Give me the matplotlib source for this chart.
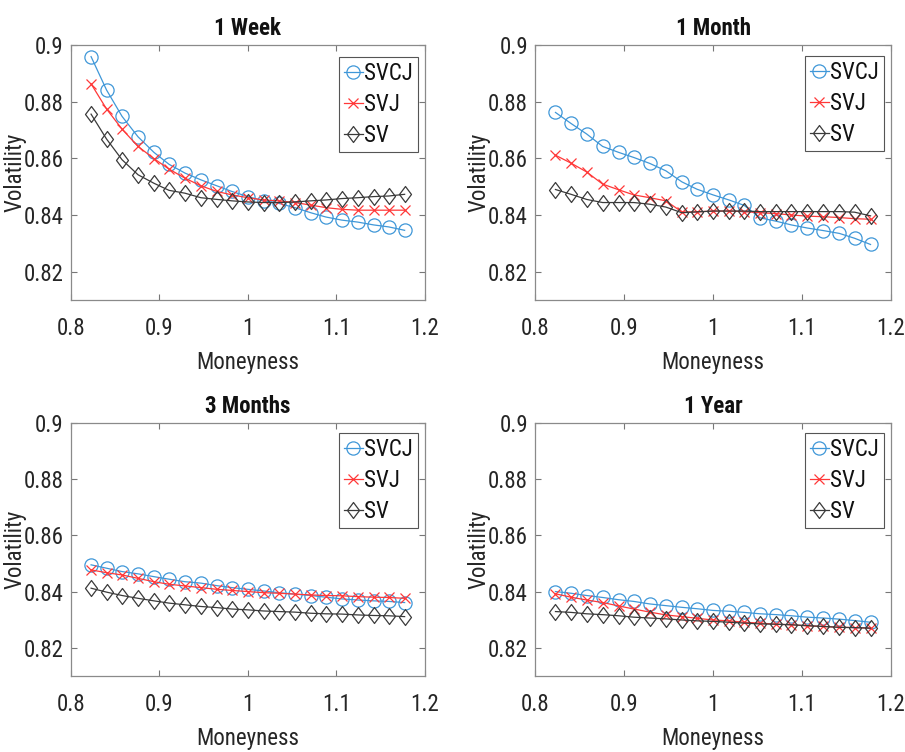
import matplotlib
matplotlib.use('Agg')
import matplotlib.pyplot as plt
from matplotlib.path import Path

plt.rcParams['font.family'] = ['Roboto Condensed', 'Liberation Sans Narrow', 'DejaVu Sans']

# datos
moneyness = [0.823, 0.8405, 0.858, 0.876, 0.894, 0.911, 0.929, 0.947, 0.965, 0.982, 1.000,
             1.018, 1.035, 1.053, 1.071, 1.088, 1.106, 1.124, 1.142, 1.159, 1.177]

titulos = ['1 Week', '1 Month', '3 Months', '1 Year']
modelos = ['SVCJ', 'SVJ', 'SV']

svcj_1w = [0.8959, 0.8841, 0.8748, 0.8676, 0.8621, 0.8579, 0.8548, 0.8524, 0.8503, 0.8483, 0.8465,
           0.8450, 0.8441, 0.8426, 0.8408, 0.8393, 0.8382, 0.8375, 0.8365, 0.8358, 0.8346]
svj_1w = [0.8863, 0.8774, 0.8703, 0.8642, 0.8599, 0.8562, 0.8530, 0.8503, 0.8483, 0.8471, 0.8461,
          0.8453, 0.8450, 0.8444, 0.8435, 0.8426, 0.8420, 0.8417, 0.8417, 0.8417, 0.8417]
sv_1w = [0.8756, 0.8668, 0.8595, 0.8542, 0.8512, 0.8487, 0.8477, 0.8461, 0.8455, 0.8450, 0.8446,
         0.8444, 0.8444, 0.8446, 0.8450, 0.8453, 0.8458, 0.8461, 0.8465, 0.8467, 0.8473]

svcj_1m = [0.8762, 0.8723, 0.8686, 0.8642, 0.8621, 0.8603, 0.8582, 0.8556, 0.8517, 0.8491, 0.8471,
           0.8453, 0.8434, 0.8390, 0.8378, 0.8365, 0.8354, 0.8345, 0.8335, 0.8318, 0.8296]
svj_1m = [0.8611, 0.8583, 0.8552, 0.8509, 0.8489, 0.8471, 0.8461, 0.8450, 0.8411, 0.8411, 0.8414,
          0.8414, 0.8412, 0.8408, 0.8405, 0.8400, 0.8396, 0.8394, 0.8391, 0.8387, 0.8385]
sv_1m = [0.8490, 0.8473, 0.8455, 0.8444, 0.8444, 0.8444, 0.8438, 0.8428, 0.8408, 0.8411, 0.8414,
         0.8414, 0.8414, 0.8412, 0.8412, 0.8412, 0.8412, 0.8412, 0.8412, 0.8410, 0.8397]

svcj_3m = [0.8495, 0.8483, 0.8471, 0.8463, 0.8453, 0.8444, 0.8435, 0.8430, 0.8421, 0.8414, 0.8408,
           0.8402, 0.8396, 0.8391, 0.8386, 0.8380, 0.8374, 0.8370, 0.8367, 0.8365, 0.8361]
svj_3m = [0.8477, 0.8467, 0.8459, 0.8447, 0.8435, 0.8426, 0.8420, 0.8414, 0.8408, 0.8404, 0.8400,
          0.8396, 0.8394, 0.8391, 0.8388, 0.8386, 0.8385, 0.8382, 0.8380, 0.8379, 0.8376]
sv_3m = [0.8412, 0.8398, 0.8386, 0.8376, 0.8367, 0.8359, 0.8353, 0.8347, 0.8343, 0.8338, 0.8335,
         0.8331, 0.8329, 0.8327, 0.8323, 0.8321, 0.8320, 0.8317, 0.8315, 0.8314, 0.8311]

svcj_1y = [0.8400, 0.8394, 0.8386, 0.8379, 0.8371, 0.8365, 0.8356, 0.8350, 0.8344, 0.8339, 0.8333,
           0.8330, 0.8326, 0.8321, 0.8318, 0.8314, 0.8309, 0.8306, 0.8302, 0.8297, 0.8291]
svj_1y = [0.8392, 0.8380, 0.8370, 0.8361, 0.8349, 0.8338, 0.8327, 0.8317, 0.8311, 0.8305, 0.8299,
          0.8296, 0.8291, 0.8288, 0.8284, 0.8282, 0.8278, 0.8276, 0.8273, 0.8272, 0.8270]
sv_1y = [0.8329, 0.8326, 0.8321, 0.8318, 0.8314, 0.8309, 0.8306, 0.8303, 0.8299, 0.8296, 0.8294,
         0.8291, 0.8288, 0.8285, 0.8284, 0.8282, 0.8279, 0.8276, 0.8273, 0.8272, 0.8270]

x_ticks = [0.8, 0.9, 1.0, 1.1, 1.2]
x_tick_labels = ['0.8', '0.9', '1', '1.1', '1.2']
y_ticks = [0.82, 0.84, 0.86, 0.88, 0.9]
y_tick_labels = ['0.82', '0.84', '0.86', '0.88', '0.9']

series = [
    (svcj_1w, svj_1w, sv_1w),
    (svcj_1m, svj_1m, sv_1m),
    (svcj_3m, svj_3m, sv_3m),
    (svcj_1y, svj_1y, sv_1y),
]

# rombo un poco mas alto que ancho, como en el original
rombo = Path([(0, 1), (0.75, 0), (0, -1), (-0.75, 0), (0, 1)],
             [Path.MOVETO, Path.LINETO, Path.LINETO, Path.LINETO, Path.CLOSEPOLY])

estilos = [
    dict(color='#3f97d8', marker='o', markersize=9.5),
    dict(color='#ff3838', marker='x', markersize=7),
    dict(color='#3a3a3a', marker=rombo, markersize=11.5),
]

W, H = 905, 752
posiciones = [
    [70.7 / W, 1 - 300 / H, 354.3 / W, 255 / H],
    [535 / W, 1 - 300 / H, 356 / W, 255 / H],
    [70.7 / W, 1 - 676 / H, 354.3 / W, 253.3 / H],
    [535 / W, 1 - 676 / H, 356 / W, 253.3 / H],
]
legend_anchor = [(418, 57), (884, 56), (418, 433), (884, 433)]

fig = plt.figure(figsize=(W / 100, H / 100), dpi=100)
fs = 16.5
gris = '#262626'

for i in range(4):
    ax = fig.add_axes(posiciones[i])
    for datos, nombre, est in zip(series[i], modelos, estilos):
        ax.plot(moneyness, datos, linewidth=0.9, markerfacecolor='none',
                markeredgewidth=0.9, label=nombre, **est)
    ax.set_xlim(0.8, 1.2)
    ax.set_ylim(0.81, 0.9)
    ax.set_xticks(x_ticks)
    ax.set_xticklabels(x_tick_labels)
    ax.set_yticks(y_ticks)
    ax.set_yticklabels(y_tick_labels)
    ax.tick_params(direction='in', length=4, width=0.8, colors='#777777',
                   labelcolor=gris, labelsize=fs, top=True, right=True)
    ax.tick_params(axis='x', pad=12)
    ax.tick_params(axis='y', pad=5)
    for s in ax.spines.values():
        s.set_color('#8a8a8a')
        s.set_linewidth(0.9)
    ax.set_title(titulos[i], fontsize=fs, fontweight='bold', pad=7, color='#111111')
    ax.set_xlabel('Moneyness', fontsize=fs, color=gris, labelpad=8)
    ax.set_ylabel('Volatility', fontsize=fs, color=gris)
    ax.yaxis.set_label_coords(-0.125, 0.5)
    lx, ly = legend_anchor[i]
    leg = ax.legend(loc='upper right', bbox_to_anchor=(lx / W, 1 - ly / H),
                    bbox_transform=fig.transFigure, borderaxespad=0,
                    fontsize=fs, fancybox=False, framealpha=1, edgecolor='#555555',
                    handlelength=0.85, handletextpad=0.05, labelspacing=0.35,
                    borderpad=0.22)
    leg.get_frame().set_linewidth(0.8)
    for t in leg.get_texts():
        t.set_color('#111111')

plt.savefig('out.png', dpi=100)
